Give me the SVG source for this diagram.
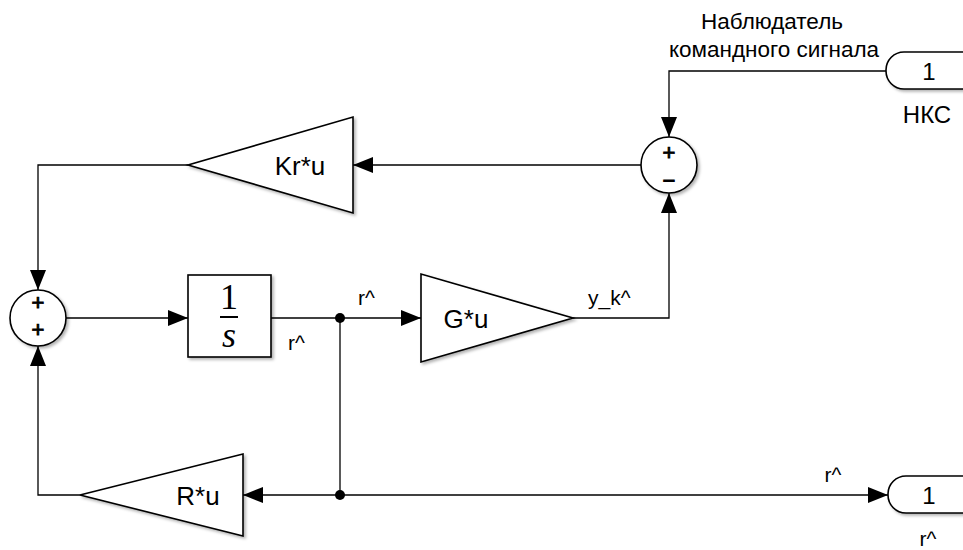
<svg xmlns="http://www.w3.org/2000/svg" width="963" height="550" viewBox="0 0 963 550">
<style>
.blk{fill:#fff;stroke:#000;stroke-width:1.6;filter:url(#sh)}
.ln{fill:none;stroke:#000;stroke-width:1.3}
.t{font-family:"Liberation Sans",Arial,sans-serif;fill:#000}
.lab{font-size:21px}
.gain{font-size:26px;text-anchor:middle}
.sg{font-size:22px;text-anchor:middle;stroke:#000;stroke-width:0.9}
</style>
<defs>
<filter id="sh" x="-10%" y="-10%" width="130%" height="130%">
<feDropShadow dx="2" dy="2" stdDeviation="1.5" flood-color="#000" flood-opacity="0.3"/>
</filter>
<marker id="ah" viewBox="0 0 20 16" refX="20" refY="8" markerWidth="20" markerHeight="16" markerUnits="userSpaceOnUse" orient="auto">
<path d="M0,0 L20,8 L0,16 z" fill="#000"/>
</marker>
</defs>
<rect width="963" height="550" fill="#fff"/>

<g id="connectors">
<path class="ln" d="M886,71 H669 V137" marker-end="url(#ah)"/>
<path class="ln" d="M641,165 H353" marker-end="url(#ah)"/>
<path class="ln" d="M188,165 H38 V290" marker-end="url(#ah)"/>
<path class="ln" d="M66,318 H188" marker-end="url(#ah)"/>
<path class="ln" d="M271,318 H421" marker-end="url(#ah)"/>
<path class="ln" d="M573,318 H669 V193" marker-end="url(#ah)"/>
<path class="ln" d="M340,318 V495"/>
<path class="ln" d="M340,495 H888" marker-end="url(#ah)"/>
<path class="ln" d="M340,495 H243" marker-end="url(#ah)"/>
<path class="ln" d="M80,495 H38 V346" marker-end="url(#ah)"/>
<circle cx="340" cy="318" r="5" fill="#000"/>
<circle cx="340" cy="495" r="5" fill="#000"/>
<text class="t lab" x="358" y="305">r^</text>
<text class="t lab" x="288" y="350">r^</text>
<text class="t lab" x="588" y="305">y_k^</text>
<text class="t lab" x="833" y="482" text-anchor="middle">r^</text>
</g>

<g id="inport_nks">
<rect class="blk" x="886" y="52" width="100" height="37" rx="18" ry="18"/>
<text class="t" x="929" y="80" font-size="24" text-anchor="middle">1</text>
<text class="t" x="927" y="123" font-size="24" text-anchor="middle">НКС</text>
<text class="t" x="772" y="29" font-size="22.5" text-anchor="middle">Наблюдатель</text>
<text class="t" x="774" y="57" font-size="22.5" text-anchor="middle">командного сигнала</text>
</g>

<g id="sum1">
<circle class="blk" cx="669" cy="165" r="28"/>
<text class="t sg" x="669" y="160">+</text>
<text class="t sg" x="669" y="188">−</text>
</g>

<g id="gain_kr">
<polygon class="blk" points="353,117 353,213 188,165"/>
<text class="t gain" x="300" y="175">Kr*u</text>
</g>

<g id="sum2">
<circle class="blk" cx="38" cy="318" r="28"/>
<text class="t sg" x="38" y="310">+</text>
<text class="t sg" x="38" y="337">+</text>
</g>

<g id="integrator">
<rect class="blk" x="188" y="275" width="83" height="82"/>
<text x="229" y="309" font-family="'Liberation Serif','Times New Roman',serif" font-size="36" text-anchor="middle">1</text>
<line x1="220" y1="317" x2="238" y2="317" stroke="#000" stroke-width="2"/>
<text x="229" y="347" font-family="'Liberation Serif','Times New Roman',serif" font-size="36" font-style="italic" text-anchor="middle">s</text>
</g>

<g id="gain_g">
<polygon class="blk" points="421,274 421,362 573,318"/>
<text class="t gain" x="466" y="328">G*u</text>
</g>

<g id="gain_r">
<polygon class="blk" points="243,454 243,536 80,495"/>
<text class="t gain" x="198" y="505">R*u</text>
</g>

<g id="outport_r">
<rect class="blk" x="888" y="476" width="100" height="37" rx="18" ry="18"/>
<text class="t" x="929" y="504" font-size="24" text-anchor="middle">1</text>
<text class="t lab" x="928" y="546" text-anchor="middle">r^</text>
</g>
</svg>
